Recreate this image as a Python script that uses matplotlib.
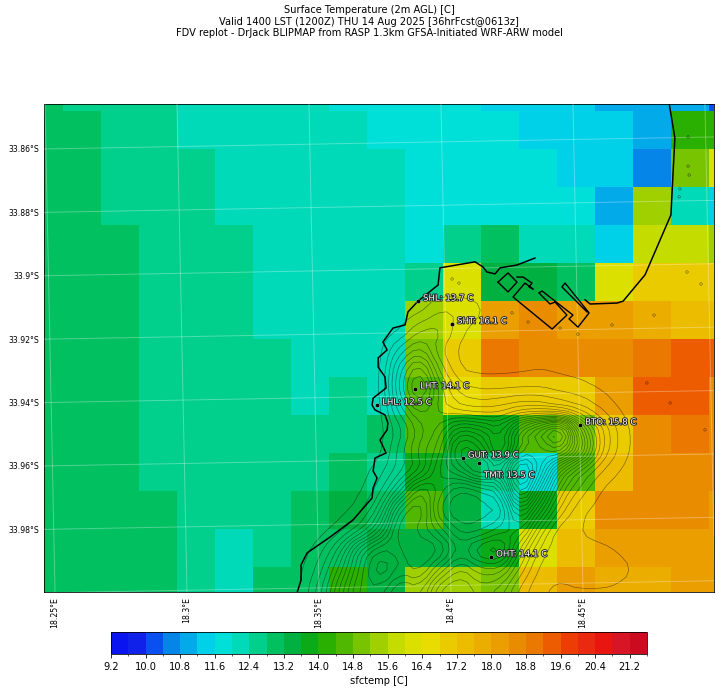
"""Surface temperature map, BLIPMAP style, Cape Peninsula domain."""

from __future__ import annotations

import matplotlib

matplotlib.use("Agg")

import matplotlib.patheffects as pe
import matplotlib.pyplot as plt
import numpy as np
from matplotlib.colors import BoundaryNorm, ListedColormap

TITLE = (
    "Surface Temperature (2m AGL) [C]\n"
    "Valid 1400 LST (1200Z) THU 14 Aug 2025 [36hrFcst@0613z]\n"
    "FDV replot - DrJack BLIPMAP from RASP 1.3km GFSA-Initiated WRF-ARW model"
)

BAR_COLORS = [
    "#0a14f0", "#1022ea", "#0a50f0", "#0585e8", "#02aaea", "#00d0e8", "#00e0d8", "#00dab8",
    "#00d08c", "#00c060", "#00b040", "#0aaa18", "#2ab000", "#50b800", "#78c400", "#a0d000",
    "#c4dc00", "#dce000", "#e8dc00", "#eacb00", "#ebbc00", "#ebad00", "#ea9e00", "#ea8c00",
    "#eb7800", "#ee5c00", "#ee3c05", "#ea2a10", "#e81510", "#d81525", "#cc0a20",
]

# model cells, north to south, deg C
TEMP = [
    [13.0, 12.6, 12.6, 12.6, 12.2, 12.2, 12.2, 12.2, 11.8, 11.8, 11.8, 11.8, 11.4, 11.4, 11.4, 11.0, 11.0, 11.0, 10.2],
    [13.0, 13.0, 12.6, 12.6, 12.2, 12.2, 12.2, 12.2, 12.2, 11.8, 11.8, 11.8, 11.8, 11.4, 11.4, 11.4, 11.0, 14.2, 14.2],
    [13.0, 13.0, 12.6, 12.6, 12.6, 12.2, 12.2, 12.2, 12.2, 12.2, 11.8, 11.8, 11.8, 11.8, 11.4, 11.4, 10.6, 15.0, 16.2],
    [13.0, 13.0, 12.6, 12.6, 12.6, 12.2, 12.2, 12.2, 12.2, 12.2, 11.8, 11.8, 11.8, 11.8, 11.8, 11.0, 15.4, 12.2, 11.4],
    [13.0, 13.0, 13.0, 12.6, 12.6, 12.6, 12.2, 12.2, 12.2, 12.2, 11.8, 12.6, 13.0, 12.2, 12.2, 11.4, 15.8, 15.8, 15.4],
    [13.0, 13.0, 13.0, 12.6, 12.6, 12.6, 12.2, 12.2, 12.2, 12.2, 12.6, 16.2, 13.4, 13.4, 13.0, 16.2, 17.0, 17.0, 17.0],
    [13.0, 13.0, 13.0, 12.6, 12.6, 12.6, 12.2, 12.2, 12.2, 12.2, 15.4, 16.2, 18.2, 18.6, 18.2, 18.2, 17.8, 17.4, 17.4],
    [13.0, 13.0, 13.0, 12.6, 12.6, 12.6, 12.6, 12.2, 12.2, 12.2, 15.0, 17.0, 19.0, 18.6, 18.6, 18.6, 19.0, 19.4, 19.4],
    [13.0, 13.0, 13.0, 12.6, 12.6, 12.6, 12.6, 12.2, 12.6, 12.2, 14.6, 16.6, 17.0, 17.0, 17.0, 18.2, 19.4, 19.4, 18.6],
    [13.0, 13.0, 13.0, 12.6, 12.6, 12.6, 12.6, 12.6, 12.6, 13.0, 14.6, 13.8, 13.8, 14.6, 15.0, 17.0, 18.6, 19.0, 18.6],
    [13.0, 13.0, 13.0, 12.6, 12.6, 12.6, 12.6, 12.6, 13.0, 12.6, 13.8, 13.4, 12.6, 11.8, 14.6, 17.4, 18.6, 18.6, 18.6],
    [13.0, 13.0, 13.0, 13.0, 12.6, 12.6, 12.6, 13.0, 13.4, 13.0, 14.6, 13.4, 12.2, 13.8, 17.0, 18.6, 18.6, 18.6, 18.2],
    [13.0, 13.0, 13.0, 13.0, 12.6, 12.2, 12.6, 13.0, 13.0, 13.4, 13.4, 13.4, 13.8, 16.2, 17.4, 18.2, 18.2, 18.2, 18.2],
    [13.0, 13.0, 13.0, 13.0, 12.6, 12.2, 13.0, 13.0, 14.2, 13.4, 15.4, 15.4, 15.0, 17.4, 18.2, 17.8, 17.8, 18.2, 18.2],
]

# terrain height in contour steps, rows north to south
TERRAIN = [
    [0, 0, 0, 0, 0, 0, 0, 0, 0, 0, 0, 0, 0, 0, 0, 0, 0, 0],
    [0, 0, 0, 0, 0, 0, 0, 0, 0, 0, 0, 0, 0, 0, 0, 0, 0, 0],
    [0, 0, 0, 0, 0, 0, 0, 1.5, 1.5, 0.6, 0, 0, 0, 0, 0, 0, 0, 0],
    [0, 0, 0, 0, 0, 0.2, 2.5, 3, 0.7, 0, 0, 0, 0, 0, 0, 0, 0, 0],
    [0, 0, 0, 0, 0, 3, 5, 1.5, 0.2, 0, 0, 0, 0, 0, 0, 0, 0, 0],
    [0, 0, 0, 0, 0, 5.5, 9, 3, 0.4, 0.2, 0.2, 0.3, 0.5, 0.3, 0.2, 0, 0, 0],
    [0, 0, 0, 0, 0, 6, 11, 5, 2, 1.5, 1.5, 1.6, 1.6, 1.2, 0.9, 0.45, 0, 0],
    [0, 0, 0, 0, 0, 4, 7, 5, 4, 3.5, 4, 5, 5, 4, 3, 1.5, 0.4, 0],
    [0, 0, 0, 0, 0, 2, 5, 7, 11, 10, 8, 14, 18, 22, 10, 4, 1, 0],
    [0, 0, 0, 0, 0, 3, 6, 8, 15, 13, 7, 15, 16, 18, 12, 4, 1, 0],
    [0, 0, 0, 0, 1, 3, 5, 10, 12, 16, 13, 22, 16, 8, 4, 1.5, 0.4, 0],
    [0, 0, 0, 0.2, 2, 6, 12, 9, 6, 7, 9, 20, 12, 5, 2, 0.4, 0, 0],
    [0, 0, 0, 1, 4, 12, 14, 7, 5, 6, 6, 14, 8, 3, 0.6, 0.2, 0, 0],
    [0, 0, 1, 3, 7, 14, 12, 10, 7, 7, 9, 10, 4, 0.6, 0.5, 0.2, 0, 0],
    [0, 1, 4, 10, 13, 12, 14, 13, 9, 12, 13, 6, 2, 0.6, 0.7, 0.7, 0.4, 0],
    [0.2, 2, 6, 11, 15, 12, 13, 9, 6, 8, 8, 4, 1, 0.7, 1.5, 1.5, 0.8, 0.3],
    [0.5, 3, 8, 12, 12, 9, 10, 5, 4, 6, 5, 2, 0.6, 0.3, 0.3, 0.3, 0.3, 0],
    [0.5, 3, 8, 12, 12, 9, 10, 5, 4, 6, 5, 2, 0.6, 0.3, 0.3, 0.3, 0.3, 0],
]

COAST_LON = [
    18.3413, 18.3432, 18.3432, 18.3455, 18.3542, 18.3629, 18.3701, 18.3705, 18.3720, 18.3705,
    18.3712, 18.3754, 18.3731, 18.3758, 18.3761, 18.3750, 18.3712, 18.3701, 18.3705, 18.3754,
    18.3750, 18.3724, 18.3724, 18.3758, 18.3742, 18.3780, 18.3826, 18.3837, 18.3875, 18.3951,
    18.3958, 18.4091, 18.4121, 18.4136, 18.4167, 18.4186, 18.4250, 18.4318,
]
COAST_LAT = [
    -34.0010, -33.9960, -33.9912, -33.9874, -33.9824, -33.9770, -33.9701, -33.9669, -33.9638, -33.9616,
    -33.9575, -33.9559, -33.9518, -33.9486, -33.9464, -33.9439, -33.9423, -33.9408, -33.9386, -33.9354,
    -33.9319, -33.9288, -33.9259, -33.9234, -33.9209, -33.9165, -33.9155, -33.9114, -33.9080, -33.9029,
    -33.8975, -33.8956, -33.8972, -33.8988, -33.8994, -33.8975, -33.8966, -33.8944,
]
DOCK_LON = [18.4178, 18.4216, 18.4250, 18.4216, 18.4178]
DOCK_LAT = [-33.9020, -33.8991, -33.9020, -33.9051, -33.9020]
HARBOUR_LON = [
    18.4250, 18.4273, 18.4307, 18.4295, 18.4311, 18.4280, 18.4235, 18.4383, 18.4439, 18.4394,
    18.4375, 18.4333, 18.4345, 18.4462, 18.4447, 18.4481, 18.4523, 18.4432, 18.4420, 18.4515,
]
HARBOUR_LAT = [
    -33.9004, -33.9004, -33.9023, -33.9035, -33.9042, -33.9023, -33.9067, -33.9168, -33.9124, -33.9083,
    -33.9089, -33.9054, -33.9048, -33.9124, -33.9136, -33.9162, -33.9117, -33.9023, -33.9035, -33.9114,
]
EAST_LON = [18.4508, 18.4527, 18.4629, 18.4652, 18.4735, 18.4833, 18.4848, 18.4826]
EAST_LAT = [-33.9076, -33.9089, -33.9086, -33.9080, -33.8997, -33.8808, -33.8565, -33.8455]

ROCK_LON = [
    18.4004, 18.4030, 18.4231, 18.4292, 18.4413, 18.4481, 18.4610, 18.4769, 18.4894,
    18.4947, 18.4898, 18.4898, 18.4902, 18.4867, 18.4864, 18.4742, 18.4830, 18.4962,
]
ROCK_LAT = [
    -33.9010, -33.9023, -33.9117, -33.9146, -33.9165, -33.9184, -33.9155, -33.9124, -33.8988,
    -33.9026, -33.8562, -33.8654, -33.8682, -33.8726, -33.8751, -33.9338, -33.9401, -33.9486,
]

SITE_NAMES = ["SHL", "SHT", "LHT", "LHL", "GUT", "TMT", "BTO", "OHT"]
SITE_TEMPS = [13.7, 16.1, 14.1, 12.5, 13.9, 13.5, 15.8, 14.1]
SITE_LON = [18.3875, 18.4004, 18.3864, 18.3720, 18.4045, 18.4106, 18.4489, 18.4152]
SITE_LAT = [-33.9080, -33.9152, -33.9357, -33.9408, -33.9575, -33.9591, -33.9471, -33.9887]

LON_TICKS = [18.25, 18.3, 18.35, 18.4, 18.45]
LAT_TICKS = [-33.86, -33.88, -33.9, -33.92, -33.94, -33.96, -33.98]
BAR_TICKS = [9.2, 10.0, 10.8, 11.6, 12.4, 13.2, 14.0, 14.8, 15.6, 16.4, 17.2, 18.0, 18.8, 19.6, 20.4, 21.2]

LON_MIN, LON_MAX = 18.24583, 18.49962
LAT_MIN, LAT_MAX = -33.99975, -33.84581
FIG_W, FIG_H = 721, 692


def _soften(height, factor=3):
    # finer copy of the height table so the contours lose their corners
    rows, cols = height.shape
    fine_r = np.linspace(0, rows - 1, (rows - 1) * factor + 1)
    fine_c = np.linspace(0, cols - 1, (cols - 1) * factor + 1)
    out = np.array([np.interp(fine_c, np.arange(cols), row) for row in height])
    out = np.array([np.interp(fine_r, np.arange(rows), col) for col in out.T]).T
    kernel = np.ones(factor) / factor
    out = np.apply_along_axis(np.convolve, 0, out, kernel, mode="same")
    out = np.apply_along_axis(np.convolve, 1, out, kernel, mode="same")
    return fine_c, fine_r, out


def _grid_lines(ax) -> None:
    # the projection tilts lat/lon lines a little across the domain
    tilt = 0.0038
    style = {"color": "white", "alpha": 0.3, "linewidth": 1.0, "zorder": 3}
    for lon in LON_TICKS + [18.5]:
        ax.plot([lon, lon - tilt], [LAT_MIN, LAT_MAX], **style)
    for lat in LAT_TICKS + [-34.0]:
        ax.plot([LON_MIN, LON_MAX], [lat, lat + tilt], **style)


def _sites(ax) -> None:
    outline = [pe.withStroke(linewidth=1.8, foreground="#202020")]
    for name, temp, lon, lat in zip(SITE_NAMES, SITE_TEMPS, SITE_LON, SITE_LAT):
        ax.plot(lon, lat, "o", color="black", markersize=4.2, markeredgecolor="white", markeredgewidth=0.3, zorder=6)
        offset = (5, -12) if name == "TMT" else (5, 3)
        ax.annotate(
            f"{name}: {temp} C",
            (lon, lat),
            textcoords="offset pixels",
            xytext=offset,
            color="white",
            fontsize=8.6,
            va="center",
            path_effects=outline,
            zorder=7,
        )


def main() -> None:
    fig = plt.figure(figsize=(FIG_W / 72, FIG_H / 72), dpi=72)
    ax = fig.add_axes([44 / FIG_W, 1 - 592 / FIG_H, 670 / FIG_W, 488 / FIG_H])

    dlon, dlat = 0.014394, 0.011987
    lon_edges = np.r_[LON_MIN, 18.25303 + np.arange(18) * dlon, LON_MAX]
    lat_edges = np.r_[LAT_MAX, -33.84801 - np.arange(13) * dlat, LAT_MIN]

    levels = np.arange(9.2, 21.61, 0.4)
    cmap = ListedColormap(BAR_COLORS)
    norm = BoundaryNorm(levels, cmap.N)
    mesh = ax.pcolormesh(lon_edges, lat_edges, np.array(TEMP), cmap=cmap, norm=norm, zorder=1)

    fine_c, fine_r, terrain = _soften(np.array(TERRAIN))
    terrain_lon = 18.3428 + fine_c * 0.00758
    terrain_lat = -33.8982 - fine_r * 0.00631
    ax.contour(
        terrain_lon, terrain_lat, terrain, levels=np.arange(0.5, 30, 1),
        colors="black", linewidths=0.6, alpha=0.5, zorder=2,
    )

    _grid_lines(ax)

    ax.scatter(ROCK_LON, ROCK_LAT, s=6, facecolors="none", edgecolors="black", linewidths=0.4, alpha=0.8, zorder=4)
    ax.plot(COAST_LON, COAST_LAT, color="black", linewidth=1.5, zorder=5)
    ax.plot(DOCK_LON, DOCK_LAT, color="black", linewidth=1.4, zorder=5)
    ax.plot(HARBOUR_LON, HARBOUR_LAT, color="black", linewidth=1.4, zorder=5)
    ax.plot(EAST_LON, EAST_LAT, color="black", linewidth=1.5, zorder=5)

    _sites(ax)

    ax.set_xlim(LON_MIN, LON_MAX)
    ax.set_ylim(LAT_MIN, LAT_MAX)
    ax.set_xticks(LON_TICKS)
    ax.set_xticklabels([f"{lon:g}\N{DEGREE SIGN}E" for lon in LON_TICKS], rotation=90, fontsize=7.8)
    ax.set_yticks(LAT_TICKS)
    ax.set_yticklabels([f"{-lat:g}\N{DEGREE SIGN}S" for lat in LAT_TICKS], fontsize=7.8)
    ax.tick_params(axis="both", length=0, pad=5)

    fig.text(369 / FIG_W, 1 - 5 / FIG_H, TITLE, ha="center", va="top", fontsize=9.9, linespacing=1.2)

    cax = fig.add_axes([111 / FIG_W, 1 - 654 / FIG_H, 536 / FIG_W, 22 / FIG_H])
    bar = fig.colorbar(mesh, cax=cax, orientation="horizontal", ticks=BAR_TICKS, drawedges=False)
    bar.ax.set_xticks(levels, minor=True)
    bar.ax.set_xticklabels([f"{t:.1f}" for t in BAR_TICKS], fontsize=9.9)
    bar.ax.tick_params(axis="x", which="major", length=3.5, pad=4.5)
    bar.ax.tick_params(axis="x", which="minor", length=2)
    bar.set_label("sfctemp [C]", fontsize=9.9, labelpad=4)

    fig.savefig("out.png", dpi=72)
    plt.close(fig)


if __name__ == "__main__":
    main()
